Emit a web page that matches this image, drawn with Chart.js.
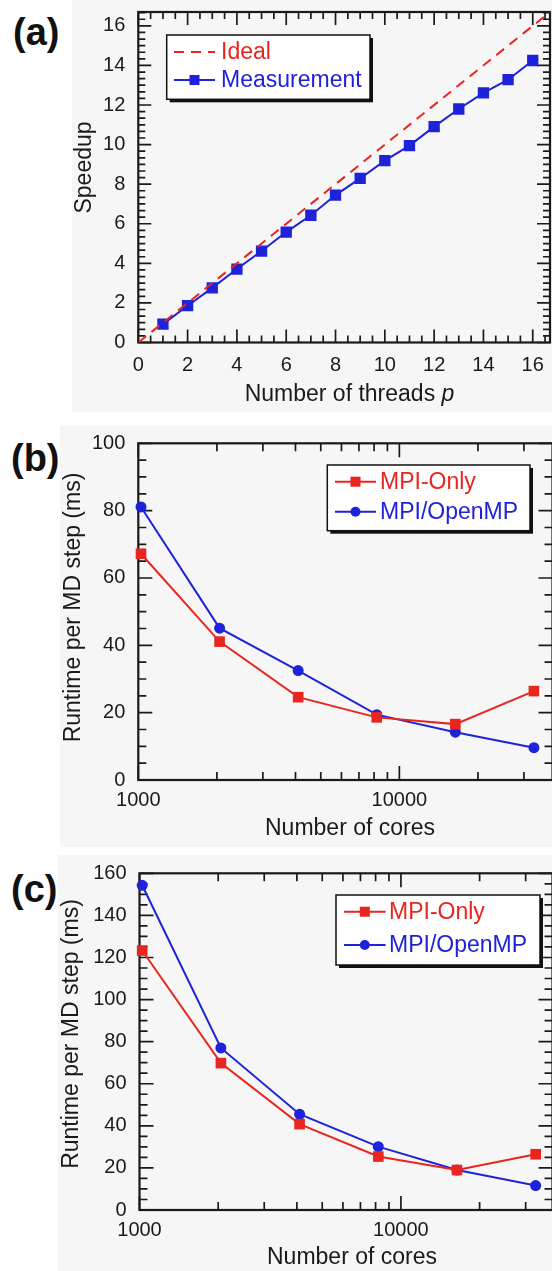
<!DOCTYPE html>
<html>
<head>
<meta charset="utf-8">
<script src="https://cdn.jsdelivr.net/npm/chart.js@4.4.1/dist/chart.umd.min.js"></script>
<style>
  html, body { margin: 0; padding: 0; background: #fff; }
  body { width: 552px; height: 1271px; overflow: hidden; position: relative;
         font-family: "Liberation Sans", Arial, sans-serif; }
  .bg { position: absolute; background: #f6f6f6; }
  .lbl { position: absolute; font-weight: bold; font-size: 38px; line-height: 38px; color: #111; }
  canvas { position: absolute; left: 0; }
</style>
</head>
<body>
<div class="bg" style="left:72px;top:0;width:480px;height:412px"></div>
<div class="bg" style="left:60px;top:426px;width:492px;height:421px"></div>
<div class="bg" style="left:58px;top:855px;width:494px;height:416px"></div>
<div class="lbl" style="left:13px;top:13px">(a)</div>
<div class="lbl" style="left:11px;top:439px">(b)</div>
<div class="lbl" style="left:11px;top:870px">(c)</div>
<canvas id="chartA" width="560" height="412" style="top:0"></canvas>
<canvas id="chartB" width="560" height="421" style="top:426px"></canvas>
<canvas id="chartC" width="560" height="416" style="top:855px"></canvas>
<script>
// (a) speedup vs threads
const threads = [1, 2, 3, 4, 5, 6, 7, 8, 9, 10, 11, 12, 13, 14, 15, 16];
const speedupMeasured = [0.93, 1.86, 2.76, 3.71, 4.62, 5.58, 6.43, 7.45, 8.29, 9.19, 9.95, 10.91, 11.8, 12.61, 13.28, 14.25];
const idealThreads = [0, 17];
const idealSpeedup = [0, 17];
const ticksA = [0, 2, 4, 6, 8, 10, 12, 14, 16];

// (b), (c) runtime vs cores
const cores = [1024, 2048, 4096, 8192, 16384, 32768];
const runtimeB_mpiOnly = [67.2, 41.1, 24.6, 18.6, 16.6, 26.4];
const runtimeB_hybrid = [81.1, 45.1, 32.5, 19.4, 14.2, 9.6];
const runtimeC_mpiOnly = [123.3, 69.8, 40.8, 25.4, 19.0, 26.5];
const runtimeC_hybrid = [154.3, 77.0, 45.5, 30.1, 19.0, 11.6];
const ticksCores = [1000, 10000];
const ticksB = [0, 20, 40, 60, 80, 100];
const ticksC = [0, 20, 40, 60, 80, 100, 120, 140, 160];

const RED = '#e8251e';
const BLUE = '#1e22d9';
const INK = '#1a1a1a';
const FONT = '"Liberation Sans", Arial, sans-serif';
Chart.defaults.font.family = FONT;
Chart.defaults.color = INK;

function range(a, b, step) {
  const out = [];
  for (let v = a; v <= b + 1e-9; v += step) out.push(+v.toFixed(4));
  return out;
}
const logMinor = [2000, 3000, 4000, 5000, 6000, 7000, 8000, 9000, 20000, 30000];

// frame around the plot area with inward ticks on all four sides
const frameTicks = {
  id: 'frameTicks',
  beforeDatasetsDraw(chart, args, o) {
    const {ctx, chartArea: a, scales} = chart;
    ctx.save();
    ctx.strokeStyle = INK;
    ctx.lineWidth = 2.2;
    ctx.strokeRect(a.left, a.top, a.right - a.left, a.bottom - a.top);
    ctx.lineWidth = 1.7;
    ctx.beginPath();
    const doX = (list, len) => list.forEach(v => {
      const p = scales.x.getPixelForValue(v);
      if (p < a.left - 0.5 || p > a.right + 0.5) return;
      ctx.moveTo(p, a.bottom); ctx.lineTo(p, a.bottom - len);
      ctx.moveTo(p, a.top); ctx.lineTo(p, a.top + len);
    });
    const doY = (list, len) => list.forEach(v => {
      const p = scales.y.getPixelForValue(v);
      if (p < a.top - 0.5 || p > a.bottom + 0.5) return;
      ctx.moveTo(a.left, p); ctx.lineTo(a.left + len, p);
      ctx.moveTo(a.right, p); ctx.lineTo(a.right - len, p);
    });
    doX(o.xMajor, o.majorLen); doX(o.xMinor, o.minorLen);
    doY(o.yMajor, o.majorLen); doY(o.yMinor, o.minorLen);
    ctx.stroke();
    ctx.restore();
  }
};

// boxed legend with drop shadow
const boxLegend = {
  id: 'boxLegend',
  afterDatasetsDraw(chart, args, o) {
    const ctx = chart.ctx, b = o.box;
    ctx.save();
    ctx.fillStyle = '#111';
    ctx.fillRect(b.x + 3, b.y + 3, b.w, b.h);
    ctx.fillStyle = '#fff';
    ctx.fillRect(b.x, b.y, b.w, b.h);
    ctx.strokeStyle = '#111';
    ctx.lineWidth = 1.5;
    ctx.strokeRect(b.x, b.y, b.w, b.h);
    chart.data.datasets.forEach((ds, i) => {
      const y = o.rows[i];
      ctx.strokeStyle = ds.borderColor;
      ctx.lineWidth = 2;
      ctx.setLineDash(ds.borderDash || []);
      ctx.beginPath();
      ctx.moveTo(o.x0, y); ctx.lineTo(o.x1, y);
      ctx.stroke();
      ctx.setLineDash([]);
      const m = (o.x0 + o.x1) / 2;
      ctx.fillStyle = ds.borderColor;
      if (ds.pointRadius > 0) {
        if (ds.pointStyle === 'rect') {
          ctx.fillRect(m - 5, y - 5, 10, 10);
        } else {
          ctx.beginPath(); ctx.arc(m, y, 5, 0, Math.PI * 2); ctx.fill();
        }
      }
      ctx.font = '23px ' + FONT;
      ctx.textBaseline = 'middle';
      ctx.textAlign = 'left';
      ctx.fillText(ds.label, o.textX, y + 1);
    });
    ctx.restore();
  }
};

// axis titles, parts allow an italic symbol
const axisTitles = {
  id: 'axisTitles',
  afterDraw(chart, args, o) {
    const ctx = chart.ctx;
    o.items.forEach(t => {
      ctx.save();
      ctx.fillStyle = INK;
      ctx.textBaseline = 'middle';
      ctx.textAlign = 'left';
      const fonts = t.parts.map(p => (p.italic ? 'italic ' : '') + '23px ' + FONT);
      let total = 0;
      const widths = t.parts.map((p, i) => { ctx.font = fonts[i]; const w = ctx.measureText(p.text).width; total += w; return w; });
      ctx.translate(t.x, t.y);
      if (t.rotate) ctx.rotate(-Math.PI / 2);
      let x = -total / 2;
      t.parts.forEach((p, i) => { ctx.font = fonts[i]; ctx.fillText(p.text, x, 0); x += widths[i]; });
      ctx.restore();
    });
  }
};

function fixedY(width, values) {
  return {
    afterBuildTicks: s => { s.ticks = values.map(v => ({value: v})); },
    afterFit: s => { s.width = width; s.paddingTop = 0; s.paddingBottom = 0; }
  };
}
function fixedX(height, values) {
  return {
    afterBuildTicks: s => { s.ticks = values.map(v => ({value: v})); },
    afterFit: s => { s.height = height; s.paddingLeft = 0; s.paddingRight = 0; }
  };
}

const tickFont = {size: 20};

new Chart(document.getElementById('chartA'), {
  type: 'line',
  data: {
    datasets: [{
      label: 'Ideal',
      data: idealThreads.map((x, i) => ({x: x, y: idealSpeedup[i]})),
      borderColor: RED,
      borderWidth: 2,
      borderDash: [10, 7],
      pointRadius: 0
    }, {
      label: 'Measurement',
      data: threads.map((x, i) => ({x: x, y: speedupMeasured[i]})),
      borderColor: BLUE,
      backgroundColor: BLUE,
      borderWidth: 2,
      pointStyle: 'rect',
      pointRadius: 8,
      pointBorderWidth: 0
    }]
  },
  options: {
    responsive: false,
    animation: false,
    layout: {padding: {top: 12, right: 10, left: 0, bottom: 0}},
    scales: {
      x: Object.assign({
        type: 'linear', min: 0, max: 16.7,
        grid: {display: false}, border: {display: false},
        ticks: {font: tickFont, padding: 3, autoSkip: false, maxRotation: 0, callback: v => String(v)}
      }, fixedX(69.5, ticksA)),
      y: Object.assign({
        type: 'linear', min: 0, max: 16.7,
        grid: {display: false}, border: {display: false},
        ticks: {font: tickFont, padding: 5, autoSkip: false, callback: v => String(v)}
      }, fixedY(138.3, ticksA))
    },
    plugins: {
      legend: {display: false},
      tooltip: {enabled: false},
      frameTicks: {xMajor: ticksA, xMinor: range(0, 16.5, 0.5), yMajor: ticksA, yMinor: range(0, 16.67, 1 / 3), majorLen: 13, minorLen: 7},
      boxLegend: {box: {x: 166.7, y: 35, w: 203.3, h: 64.3}, rows: [52, 80], x0: 174, x1: 215, textX: 221},
      axisTitles: {items: [
        {parts: [{text: 'Speedup'}], x: 84.5, y: 167.5, rotate: true},
        {parts: [{text: 'Number of threads '}, {text: 'p', italic: true}], x: 349.5, y: 395}
      ]}
    }
  },
  plugins: [frameTicks, boxLegend, axisTitles]
});

function runtimeChart(id, mpiOnly, hybrid, yMax, yTicks, opts) {
  return new Chart(document.getElementById(id), {
    type: 'line',
    data: {
      datasets: [{
        label: 'MPI-Only',
        data: cores.map((x, i) => ({x: x, y: mpiOnly[i]})),
        borderColor: RED,
        backgroundColor: RED,
        borderWidth: 2,
        pointStyle: 'rect',
        pointRadius: 7.5,
        pointBorderWidth: 0,
        clip: false
      }, {
        label: 'MPI/OpenMP',
        data: cores.map((x, i) => ({x: x, y: hybrid[i]})),
        borderColor: BLUE,
        backgroundColor: BLUE,
        borderWidth: 2,
        pointStyle: 'circle',
        pointRadius: 5.5,
        pointBorderWidth: 0,
        clip: false
      }]
    },
    options: {
      responsive: false,
      animation: false,
      layout: {padding: {top: opts.top, right: 5, left: 0, bottom: 0}},
      scales: {
        x: Object.assign({
          type: 'logarithmic', min: 1000, max: opts.xMax,
          grid: {display: false}, border: {display: false},
          ticks: {font: tickFont, padding: 0, autoSkip: false, maxRotation: 0, callback: v => String(v)}
        }, fixedX(opts.xh, ticksCores)),
        y: Object.assign({
          type: 'linear', min: 0, max: yMax,
          grid: {display: false}, border: {display: false},
          ticks: {font: tickFont, padding: 5, autoSkip: false, callback: v => String(v)}
        }, fixedY(opts.left, yTicks))
      },
      plugins: {
        legend: {display: false},
        tooltip: {enabled: false},
        frameTicks: {xMajor: ticksCores, xMinor: logMinor, yMajor: yTicks, yMinor: range(0, yMax, 5), majorLen: 14, minorLen: 8},
        boxLegend: opts.legend,
        axisTitles: {items: [
          {parts: [{text: 'Runtime per MD step (ms)'}], x: opts.yTitle[0], y: opts.yTitle[1], rotate: true},
          {parts: [{text: 'Number of cores'}], x: opts.xTitle[0], y: opts.xTitle[1]}
        ]}
      }
    },
    plugins: [frameTicks, boxLegend, axisTitles]
  });
}

runtimeChart('chartB', runtimeB_mpiOnly, runtimeB_hybrid, 100, ticksB, {
  top: 17.3, xh: 67, left: 138.3, xMax: 38600,
  legend: {box: {x: 327.3, y: 39, w: 202.7, h: 65.7}, rows: [55.7, 85.7], x0: 335, x1: 376, textX: 380},
  yTitle: [74, 181.5], xTitle: [350, 402.3]
});

runtimeChart('chartC', runtimeC_mpiOnly, runtimeC_hybrid, 160, ticksC, {
  top: 18.3, xh: 61, left: 139.5, xMax: 38000,
  legend: {box: {x: 336, y: 40, w: 204, h: 70}, rows: [56.7, 90], x0: 344, x1: 385.6, textX: 389},
  yTitle: [72, 179], xTitle: [352, 403]
});
</script>
</body>
</html>
